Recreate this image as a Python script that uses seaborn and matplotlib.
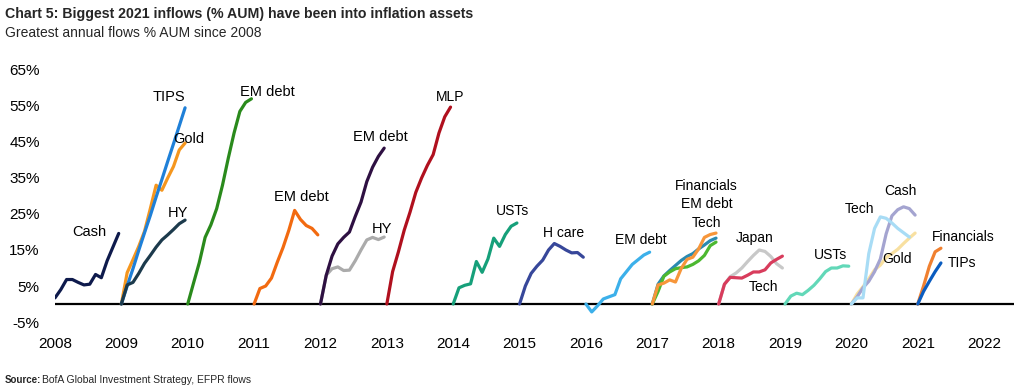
import numpy as np
import pandas as pd
import seaborn as sns
import matplotlib.pyplot as plt

# % AUM, cumulative flows through each calendar year (roughly monthly readings)
cash_2008 = [1.7, 4, 6.8, 6.8, 6, 5.3, 5.5, 8.2, 7.3, 12, 15.8, 19.6]
tips_2009 = [0, 5, 9.8, 14.9, 19.8, 24.6, 29.7, 34.6, 39.6, 44.5, 49.5, 54.5]
gold_2009 = [0, 8.7, 12.3, 16, 20.2, 26.5, 33, 31.6, 35, 38.2, 42.8, 44.7]
hy_2009 = [0, 5.3, 6, 8.5, 11.3, 13.5, 15.8, 17.8, 19.2, 20.7, 22.3, 23.3]
emdebt_2010 = [0, 5.8, 11.5, 18.5, 22, 26.5, 33, 40.5, 47.5, 53.5, 56, 57]
emdebt_2011 = [0, 4.3, 5, 7.2, 11.6, 15.7, 20.5, 26, 23.5, 21.8, 21, 19.2]
emdebt_2012 = [0, 8, 13.3, 16.7, 18.5, 20, 24.3, 28.3, 34, 38, 41, 43.3]
hy_2012 = [0, 8, 9.8, 10.3, 9.3, 9.4, 12, 15, 17.8, 18.5, 17.9, 18.6]
mlp_2013 = [0, 9, 14.5, 20.5, 25.5, 31, 35, 38.5, 41.5, 47.5, 52, 54.7]
usts_2014 = [0, 4.5, 5.2, 5.6, 11.8, 8.8, 12.5, 18.3, 16, 19.3, 21.6, 22.5]
hcare_2015 = [0, 5, 8.5, 10.5, 12.2, 15, 16.8, 16, 15, 14.2, 14.3, 13]
emdebt_2016 = [0, -2.2, -0.5, 1.4, 2, 2.6, 7, 9, 11, 12.3, 13.6, 14.4]
fin_2017 = [0, 5.3, 5.8, 6.7, 6.1, 9.9, 12.4, 13, 15.3, 18.5, 19.3, 19.7]
emdebt_2017 = [0, 3.5, 7.7, 8.9, 9.8, 10.1, 10.3, 11, 12, 13.5, 16.2, 17.2]
tech_2017 = [0, 5.5, 7.8, 9.3, 10.7, 12.1, 13.2, 14, 15.3, 16.4, 17.6, 18.3]
japan_2018 = [0, 5.5, 7.6, 8.6, 10, 11.8, 13.5, 15, 14.6, 13.2, 11.2, 10]
tech_2018 = [0, 5.5, 7.4, 7.3, 7.2, 8, 8.9, 8.9, 9.5, 11.4, 12.4, 13.3]
usts_2019 = [0, 2.2, 3, 2.6, 3.8, 5.2, 7, 9, 10, 10, 10.6, 10.5]
tech_2020 = [0, 1.7, 1.7, 14, 21, 24.2, 23.8, 22.5, 21, 19.8, 18.6]
cash_2020 = [0, 2, 4.5, 6.3, 9, 12.5, 19.5, 24.5, 26.2, 27, 26.5, 24.7]
gold_2020 = [0, 2.8, 4.8, 7, 9.5, 10.8, 12.9, 14, 15.2, 16.8, 18.3, 19.7]
fin_2021 = [0, 5, 10.5, 14.5, 15.5]
tips_2021 = [0, 3.5, 6.3, 9, 11.4]

years = list(range(2008, 2023))
yticks = [-5, 5, 15, 25, 35, 45, 55, 65]

# (start year, values, colour)
series = [
    (2008, cash_2008, "#0e1a4c"),
    (2009, gold_2009, "#f5961e"),
    (2009, tips_2009, "#1f80d8"),
    (2009, hy_2009, "#1c3a4c"),
    (2010, emdebt_2010, "#2a8a1c"),
    (2011, emdebt_2011, "#f26a10"),
    (2012, hy_2012, "#ababab"),
    (2012, emdebt_2012, "#2e1042"),
    (2013, mlp_2013, "#b0101e"),
    (2014, usts_2014, "#16a07a"),
    (2015, hcare_2015, "#37479a"),
    (2016, emdebt_2016, "#3cb0ea"),
    (2017, tech_2017, "#2a8ab0"),
    (2017, emdebt_2017, "#4cb830"),
    (2017, fin_2017, "#f7963a"),
    (2018, japan_2018, "#c8c8c8"),
    (2018, tech_2018, "#d83c5c"),
    (2019, usts_2019, "#62d8b8"),
    (2020, gold_2020, "#f8e0a0"),
    (2020, cash_2020, "#a4a4d0"),
    (2020, tech_2020, "#a8dcf5"),
    (2021, fin_2021, "#f08030"),
    (2021, tips_2021, "#0a5cc0"),
]

# (text, x, y) -- older call-outs are set a touch larger than the later ones
labels_big = [
    ("Cash", 2008.51, 20.0), ("TIPS", 2009.72, 57.5), ("Gold", 2010.02, 45.8),
    ("HY", 2009.85, 25.3), ("EM debt", 2011.20, 58.9), ("EM debt", 2011.71, 29.7),
    ("EM debt", 2012.91, 46.4), ("HY", 2012.93, 20.8),
]
labels_small = [
    ("MLP", 2013.95, 57.5), ("USTs", 2014.89, 25.8), ("H care", 2015.66, 19.7),
    ("EM debt", 2016.83, 17.8), ("Financials", 2017.82, 32.8), ("EM debt", 2017.82, 27.8),
    ("Tech", 2017.82, 22.5), ("Japan", 2018.54, 18.3), ("Tech", 2018.67, 4.7),
    ("USTs", 2019.68, 13.6), ("Tech", 2020.12, 26.4), ("Cash", 2020.74, 31.4),
    ("Gold", 2020.69, 12.5), ("Financials", 2021.69, 18.6), ("TIPs", 2021.67, 11.4),
]

sns.set_theme(style="white")
plt.rcParams["font.family"] = ["Liberation Sans", "DejaVu Sans"]

fig = plt.figure(figsize=(10.24, 3.9), dpi=100)
ax = fig.add_axes([55 / 1024, 1 - 322 / 390, 959 / 1024, 252 / 390])

step = 0.96 / 11
for start, vals, col in series:
    xs = start + np.arange(len(vals)) * step
    df = pd.DataFrame({"x": xs, "y": vals})
    sns.lineplot(data=df, x="x", y="y", color=col, lw=2.3, ax=ax,
                 estimator=None, sort=False)

ax.axhline(0, color="black", lw=1.6, zorder=0)

for txt, x, y in labels_big:
    ax.text(x, y, txt, ha="center", va="center", fontsize=10.5, color="black")
for txt, x, y in labels_small:
    ax.text(x, y, txt, ha="center", va="center", fontsize=10, color="black")

ax.set_xlim(2008, 2022.45)
ax.set_ylim(-5, 65)
ax.set_xticks(years)
ax.set_xticklabels([str(y) for y in years])
ax.set_yticks(yticks)
ax.set_yticklabels([f"{v}%" for v in yticks])
ax.tick_params(axis="both", length=0, labelsize=11, colors="black")
ax.tick_params(axis="y", pad=11)
ax.tick_params(axis="x", pad=11)
ax.set_xlabel("")
ax.set_ylabel("")
sns.despine(ax=ax, left=True, bottom=True)

fig.text(5 / 1024, 1 - 14 / 390, "Chart 5: Biggest 2021 inflows (% AUM) have been into inflation assets",
         fontsize=10.2, fontweight="bold", va="center", ha="left")
fig.text(5 / 1024, 1 - 33 / 390, "Greatest annual flows % AUM since 2008",
         fontsize=10, va="center", ha="left")
fig.text(5 / 1024, 1 - 380 / 390, "Source:", fontsize=7, fontweight="bold",
         va="center", ha="left")
fig.text(42 / 1024, 1 - 380 / 390, "BofA Global Investment Strategy, EFPR flows",
         fontsize=7.5, va="center", ha="left")

fig.savefig("out.png", dpi=100)
